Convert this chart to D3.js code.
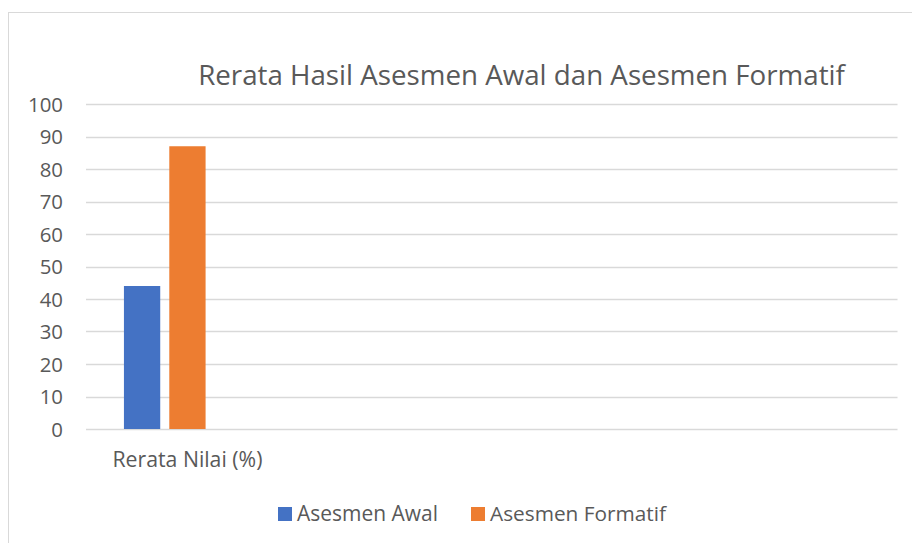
<!DOCTYPE html>
<html><head><meta charset="utf-8">
<script src="https://cdn.jsdelivr.net/npm/d3@7"></script>
<style>html,body{margin:0;padding:0;background:#fff;overflow:hidden}</style>
</head><body>
<svg id="c" width="912" height="543"></svg>
<script>
const title = "Rerata Hasil Asesmen Awal dan Asesmen Formatif";
const categories = ["Rerata Nilai (%)", "", "", ""];
const seriesNames = ["Asesmen Awal", "Asesmen Formatif"];
const slots = ["Asesmen Awal", "Asesmen Formatif", "(kosong)"];
const asesmenAwal = [44, null, null, null];
const asesmenFormatif = [87, null, null, null];
const yTicks = [0, 10, 20, 30, 40, 50, 60, 70, 80, 90, 100];
const colors = ["#4472C4", "#ED7D31"];

const font = "'Open Sans', 'Liberation Sans', sans-serif";
const svg = d3.select("#c");
svg.append("rect").attr("x", 8.5).attr("y", 12.5).attr("width", 1000).attr("height", 1000)
  .attr("fill", "#fff").attr("stroke", "#d9d9d9").attr("stroke-width", 1);

const m = {l: 86, r: 897.5, t: 104, b: 429};
const y = d3.scaleLinear().domain([0, 100]).range([m.b, m.t]);
const x0 = d3.scaleBand().domain(d3.range(categories.length)).range([m.l, m.r]).padding(0);
const bw = x0.bandwidth();
const x1 = d3.scaleBand().domain(slots).range([bw * 0.187, bw * 0.813]).paddingInner(0.2).paddingOuter(0);

function fit(sel, w) {
  const cur = sel.node().getComputedTextLength();
  const fs = parseFloat(sel.attr("font-size"));
  sel.attr("font-size", fs * w / cur);
  return fs * w / cur;
}

// gridlines
svg.append("g").selectAll("line").data(yTicks).join("line")
  .attr("x1", m.l).attr("x2", m.r)
  .attr("y1", d => Math.round(y(d)) + 0.5).attr("y2", d => Math.round(y(d)) + 0.5)
  .attr("stroke", "#d9d9d9").attr("stroke-width", 1.3);

// y axis labels
const yAxis = d3.axisLeft(y).tickValues(yTicks).tickSize(0).tickPadding(0);
const ga = svg.append("g").attr("transform", `translate(63,0)`).call(yAxis);
ga.select(".domain").remove();
ga.selectAll("text").attr("font-family", font).attr("font-size", 18.5).attr("fill", "#595959").attr("dy", "0.36em");
const topLabel = ga.selectAll("text").filter(d => d === 100);
const yfs = fit(topLabel, 35);
ga.selectAll("text").attr("font-size", yfs);

// bars
const data = [asesmenAwal, asesmenFormatif];
data.forEach((vals, si) => {
  svg.append("g").selectAll("rect").data(vals.map((v, i) => ({v, i})).filter(d => d.v != null)).join("rect")
    .attr("x", d => x0(d.i) + x1(seriesNames[si]))
    .attr("width", x1.bandwidth())
    .attr("y", d => y(d.v))
    .attr("height", d => y(0) - y(d.v))
    .attr("fill", colors[si]);
});

// category labels
const cl = svg.append("g").selectAll("text").data(categories).join("text")
  .attr("x", (d, i) => x0(i) + bw / 2).attr("y", 467)
  .attr("text-anchor", "middle").attr("font-family", font).attr("font-size", 18.5)
  .attr("fill", "#595959").text(d => d);
fit(cl.filter((d, i) => i === 0), 150);

// title
const t = svg.append("text").attr("x", 521.5).attr("y", 85).attr("text-anchor", "middle")
  .attr("font-family", font).attr("font-size", 26).attr("fill", "#595959").text(title);
fit(t, 647);

// legend
const legX = [278, 471];
const legW = [141, 176];
seriesNames.forEach((s, i) => {
  svg.append("rect").attr("x", legX[i]).attr("y", 507).attr("width", 14).attr("height", 14).attr("fill", colors[i]);
  const lt = svg.append("text").attr("x", legX[i] + 19).attr("y", 521)
    .attr("font-family", font).attr("font-size", 19).attr("fill", "#595959").text(s);
  fit(lt, legW[i]);
});
</script>
</body></html>
